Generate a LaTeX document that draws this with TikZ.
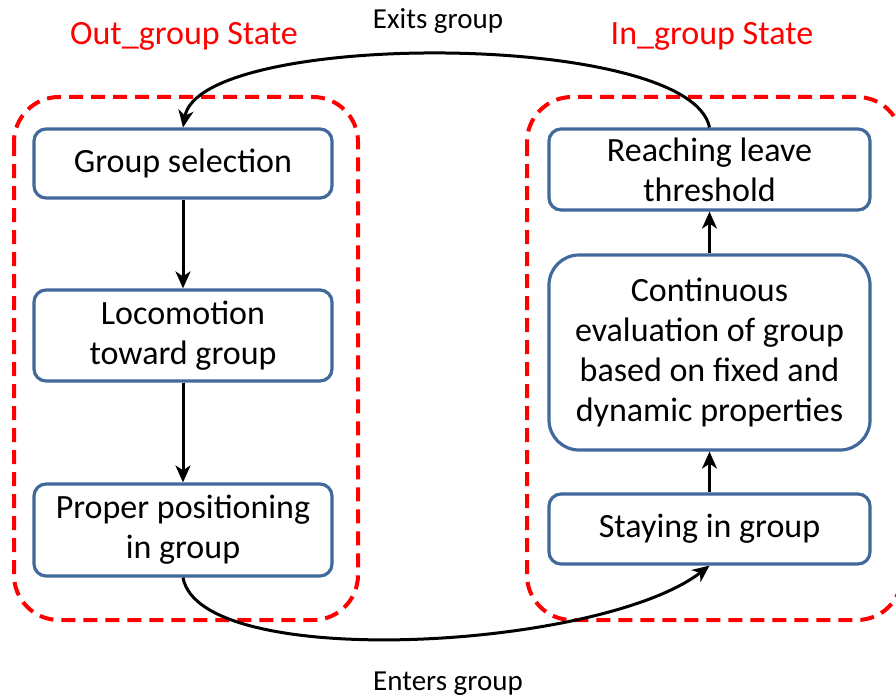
\documentclass[tikz,border=0pt]{standalone}
\usepackage{fontspec}
\setmainfont{Carlito}
\usetikzlibrary{arrows.meta}
\definecolor{boxblue}{RGB}{65,105,155}
\definecolor{framered}{RGB}{255,0,0}
\begin{document}
\begin{tikzpicture}[x=1pt,y=-1pt,
  stepbox/.style={draw=boxblue, line width=3.2pt, rounded corners=12pt, align=center,
    font=\fontsize{34}{40}\selectfont, inner sep=0pt, fill=white},
  groupframe/.style={draw=framered, line width=4pt, dash pattern=on 14pt off 8pt, rounded corners=45pt},
  statetitle/.style={text=framered, font=\fontsize{34}{40}\selectfont, anchor=base, inner sep=0pt},
  caption/.style={font=\fontsize{29}{34}\selectfont, anchor=base, inner sep=0pt},
  flow/.style={-{Stealth[length=17pt,width=15pt,inset=5pt]}, line width=3pt}
]
\useasboundingbox (0,0) rectangle (896,698);
% group frames
\draw[groupframe] (14,97) rectangle (358,620);
\draw[groupframe] (527,97) rectangle (902,620);
% titles
\node[statetitle] (outt) at (184,45) {Out\_group State};
\node[statetitle] (int) at (712,45) {In\_group State};
\node[caption] (exits) at (438,29) {Exits group};
\node[caption] (enters) at (448,690) {Enters group};
% left boxes
\node[stepbox, minimum width=298pt, minimum height=69pt] (gsel) at (183,163.5) {Group selection};
\node[stepbox, minimum width=298pt, minimum height=91pt] (loco) at (183,335.5) {Locomotion\\toward group};
\node[stepbox, minimum width=298pt, minimum height=92pt] (prop) at (183,530) {Proper positioning\\in group};
% right boxes
\node[stepbox, minimum width=321pt, minimum height=81pt] (reach) at (709.5,169.5) {Reaching leave\\threshold};
\node[stepbox, minimum width=321pt, minimum height=195pt, rounded corners=30pt] (cont) at (709.5,352.5) {Continuous\\evaluation of group\\based on fixed and\\dynamic properties};
\node[stepbox, minimum width=321pt, minimum height=70pt] (stay) at (709.5,529) {Staying in group};
% connectors
\draw[flow] (gsel.south) -- (loco.north);
\draw[flow] (loco.south) -- (prop.north);
\draw[flow] (stay.north) -- (cont.south);
\draw[flow] (cont.north) -- (reach.south);
\draw[flow] (reach.north) .. controls (690,30) and (200,30) .. (gsel.north);
\draw[flow] (prop.south) .. controls (200,672) and (600,650) .. (stay.south);
\end{tikzpicture}
\end{document}
